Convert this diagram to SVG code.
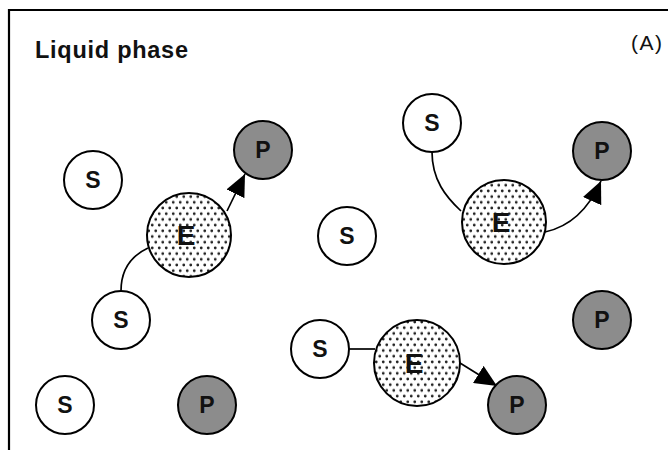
<svg xmlns="http://www.w3.org/2000/svg" width="668" height="450" viewBox="0 0 668 450">
<defs>
<pattern id="dots" width="7" height="11.4" patternUnits="userSpaceOnUse">
<circle cx="1.75" cy="2.85" r="1.4" fill="#222"/>
<circle cx="5.25" cy="8.55" r="1.4" fill="#222"/>
</pattern>
<marker id="arr" markerWidth="24" markerHeight="20" refX="22" refY="10" orient="auto" markerUnits="userSpaceOnUse">
<path d="M0,0 L22,10 L0,20 z" fill="#000"/>
</marker>
</defs>
<style>
.s{fill:#fff;stroke:#000;stroke-width:2}
.p{fill:#8c8c8c;stroke:#000;stroke-width:2}
.e{fill:url(#dots);stroke:#000;stroke-width:2}
.eb{fill:#fff}
.lb{font-family:'Liberation Sans',Arial,sans-serif;font-weight:bold;font-size:23px;text-anchor:middle;fill:#111}
.le{font-family:'Liberation Sans',Arial,sans-serif;font-weight:bold;font-size:28px;text-anchor:middle;fill:#111}
.c{fill:none;stroke:#000;stroke-width:1.7}
</style>
<rect width="668" height="450" fill="#fff"/>
<path d="M9,451 L9,10 L668,10" fill="none" stroke="#000" stroke-width="2.2"/>
<text x="35" y="58" font-family="Liberation Sans,Arial,sans-serif" font-weight="bold" font-size="23.5" textLength="153" fill="#111">Liquid phase</text>
<text x="631" y="50" font-family="Liberation Sans,Arial,sans-serif" font-size="21" textLength="31" fill="#111">(A)</text>

<g id="connectors">
<path class="c" d="M121,291 C121,268 133,255 148,248"/>
<path class="c" d="M227,211 L245,174" marker-end="url(#arr)"/>
<path class="c" d="M432,152 C432,180 446,197 461,211"/>
<path class="c" d="M545,232 Q582,224 601,181" marker-end="url(#arr)"/>
<path class="c" d="M349,349 L375,349"/>
<path class="c" d="M460,363 L497,386" marker-end="url(#arr)"/>
</g>

<g id="S1"><circle class="s" cx="93" cy="180" r="29"/><text class="lb" x="93" y="188">S</text></g>
<g id="P1"><circle class="p" cx="263" cy="150" r="29"/><text class="lb" x="263" y="158">P</text></g>
<g id="E1"><circle class="eb" cx="189" cy="235" r="42"/><circle class="e" cx="189" cy="235" r="42"/><text class="le" x="186" y="245">E</text></g>
<g id="S2"><circle class="s" cx="121" cy="320" r="29"/><text class="lb" x="121" y="328">S</text></g>
<g id="S3"><circle class="s" cx="65" cy="405" r="29"/><text class="lb" x="65" y="413">S</text></g>
<g id="P2"><circle class="p" cx="207" cy="405" r="29"/><text class="lb" x="207" y="413">P</text></g>
<g id="S4"><circle class="s" cx="347" cy="236" r="29"/><text class="lb" x="347" y="244">S</text></g>
<g id="S5"><circle class="s" cx="432" cy="123" r="29"/><text class="lb" x="432" y="131">S</text></g>
<g id="P3"><circle class="p" cx="602" cy="151" r="29"/><text class="lb" x="602" y="159">P</text></g>
<g id="E2"><circle class="eb" cx="504" cy="222" r="42"/><circle class="e" cx="504" cy="222" r="42"/><text class="le" x="501" y="232">E</text></g>
<g id="S6"><circle class="s" cx="320" cy="349" r="29"/><text class="lb" x="320" y="357">S</text></g>
<g id="E3"><circle class="eb" cx="417" cy="363" r="43"/><circle class="e" cx="417" cy="363" r="43"/><text class="le" x="414" y="373">E</text></g>
<g id="P4"><circle class="p" cx="517" cy="405" r="29"/><text class="lb" x="517" y="413">P</text></g>
<g id="P5"><circle class="p" cx="602" cy="320" r="29"/><text class="lb" x="602" y="328">P</text></g>
</svg>
